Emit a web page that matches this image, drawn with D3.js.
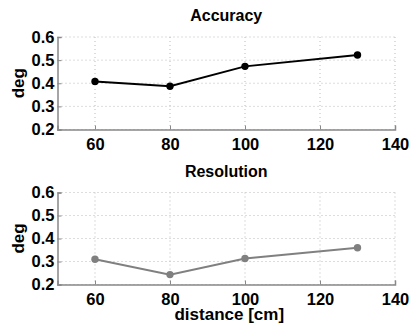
<!DOCTYPE html>
<html>
<head>
<meta charset="utf-8">
<script src="https://cdn.jsdelivr.net/npm/d3@7"></script>
<style>
  body { margin: 0; background: #fff; }
  svg { display: block; font-family: "Liberation Sans", Arial, sans-serif; font-weight: bold; }
</style>
</head>
<body>
<div id="chart"></div>
<script>
var distances = [60, 80, 100, 130];
var accuracy = [0.408, 0.387, 0.473, 0.522];
var resolution = [0.31, 0.243, 0.313, 0.36];
var xTicks = [60, 80, 100, 120, 140];
var yTicks = [0.2, 0.3, 0.4, 0.5, 0.6];

var svg = d3.select("#chart").append("svg")
  .attr("width", 411)
  .attr("height", 324);

var x = d3.scaleLinear().domain([50, 140]).range([57.5, 395]);

function drawPanel(title, values, color, top, bottom, showXLabel) {
  var y = d3.scaleLinear().domain([0.2, 0.6]).range([bottom, top]);
  var g = svg.append("g");

  // dotted grid
  g.selectAll(".vgrid").data(xTicks).enter().append("line")
    .attr("x1", d => x(d)).attr("x2", d => x(d))
    .attr("y1", top).attr("y2", bottom)
    .attr("stroke", "#bbb").attr("stroke-width", 1)
    .attr("stroke-dasharray", "1,3");
  g.selectAll(".hgrid").data(yTicks).enter().append("line")
    .attr("x1", x(50)).attr("x2", x(140))
    .attr("y1", d => y(d)).attr("y2", d => y(d))
    .attr("stroke", "#bbb").attr("stroke-width", 1)
    .attr("stroke-dasharray", "1,3");

  // axes
  var xAxis = g.append("g")
    .attr("transform", "translate(0," + bottom + ")")
    .call(d3.axisBottom(x).tickValues(xTicks).tickSize(-4).tickPadding(9));
  var yAxis = g.append("g")
    .attr("transform", "translate(" + x(50) + ",0)")
    .call(d3.axisLeft(y).tickValues(yTicks).tickFormat(d3.format(".1f")).tickSize(-4).tickPadding(3));
  [xAxis, yAxis].forEach(function(a) {
    a.select(".domain").attr("stroke", "#888").attr("stroke-width", 1.5);
    a.selectAll(".tick line").attr("stroke", "#888");
    a.selectAll("text").attr("fill", "#000")
      .style("font-size", "16.5px").style("font-weight", "bold")
      .style("font-family", "Liberation Sans, Arial, sans-serif");
  });

  // line and markers
  var pts = distances.map((d, i) => [d, values[i]]);
  g.append("path")
    .datum(pts)
    .attr("fill", "none")
    .attr("stroke", color)
    .attr("stroke-width", 2)
    .attr("d", d3.line().x(d => x(d[0])).y(d => y(d[1])));
  g.selectAll(".pt").data(pts).enter().append("circle")
    .attr("cx", d => x(d[0])).attr("cy", d => y(d[1]))
    .attr("r", 3.7).attr("fill", color);

  // title
  g.append("text")
    .attr("x", (x(50) + x(140)) / 2)
    .attr("y", top - 16)
    .attr("text-anchor", "middle")
    .style("font-size", "16px")
    .text(title);

  // y label
  g.append("text")
    .attr("transform", "translate(24," + ((top + bottom) / 2) + ") rotate(-90)")
    .attr("text-anchor", "middle")
    .style("font-size", "17px")
    .text("deg");

  if (showXLabel) {
    g.append("text")
      .attr("x", (x(50) + x(140)) / 2 + 3)
      .attr("y", 320)
      .attr("text-anchor", "middle")
      .style("font-size", "17px")
      .text("distance [cm]");
  }
}

drawPanel("Accuracy", accuracy, "#000", 37, 129.5, false);
drawPanel("Resolution", resolution, "#808080", 192.5, 284.5, true);
</script>
</body>
</html>
